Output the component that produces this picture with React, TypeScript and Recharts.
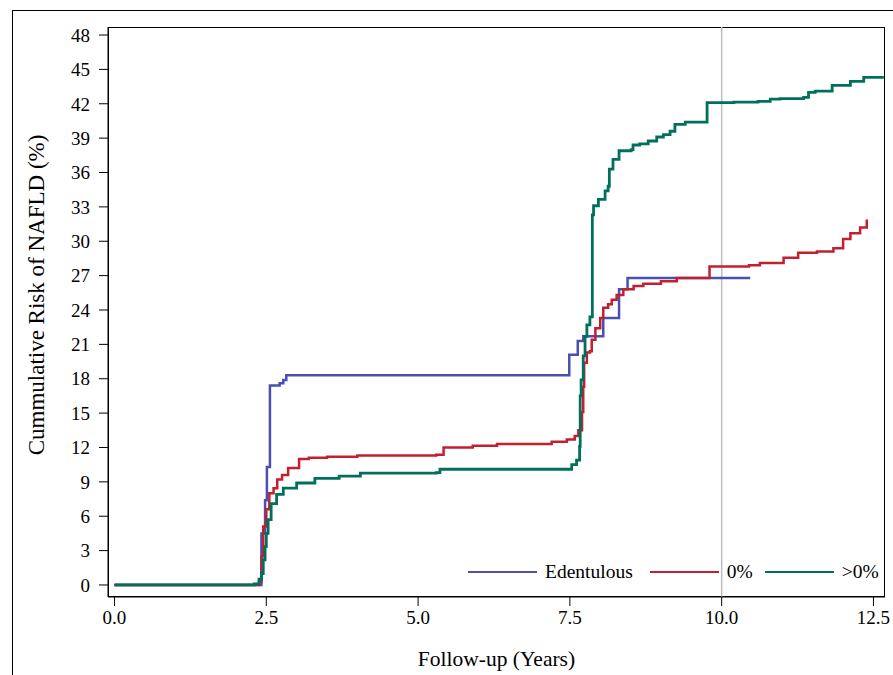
import React from 'react';
import {
  LineChart,
  Line,
  XAxis,
  YAxis,
  ReferenceLine,
} from 'recharts';

// Kaplan-Meier style cumulative risk (years, %)
const edentulousTime = [0, 2.42, 2.48, 2.51, 2.56, 2.72, 2.78, 2.83, 7.49, 7.63, 7.72, 8.05, 8.31, 8.45, 10.47];
const edentulousRisk = [0, 4.5, 7.4, 10.3, 17.4, 17.6, 17.9, 18.3, 20.1, 21.3, 21.7, 23.3, 25.8, 26.8, 26.8];

const zeroTime = [
  0, 2.38, 2.42, 2.45, 2.5, 2.55, 2.62, 2.68, 2.76, 2.86, 3.04, 3.2, 3.5, 4.0, 5.3, 5.42, 5.9, 6.3, 7.2,
  7.45, 7.58, 7.64, 7.7, 7.72, 7.735, 7.78, 7.83, 7.86, 7.92, 8.0, 8.05, 8.13, 8.19, 8.27, 8.38, 8.55,
  8.71, 9.0, 9.26, 9.8, 10.45, 10.63, 11.02, 11.26, 11.57, 11.84, 12.0, 12.12, 12.28, 12.39,
];
const zeroRisk = [
  0, 0.3, 2.5, 5.1, 6.6, 8.0, 8.45, 9.2, 9.6, 10.2, 11.0, 11.1, 11.2, 11.3, 11.36, 12.0, 12.15, 12.3, 12.5,
  12.7, 13.0, 13.5, 15.1, 17.3, 19.4, 20.3, 20.4, 21.4, 22.4, 23.3, 24.2, 24.5, 24.9, 25.3, 25.8, 26.1,
  26.3, 26.5, 26.8, 27.8, 27.9, 28.1, 28.55, 29.0, 29.1, 29.4, 30.2, 30.7, 31.2, 31.9,
];

const aboveZeroTime = [
  0, 2.3, 2.38, 2.42, 2.45, 2.48, 2.5, 2.53, 2.58, 2.67, 2.78, 3.0, 3.3, 3.7, 4.05, 5.3, 5.36, 7.45, 7.53,
  7.61, 7.66, 7.67, 7.685, 7.72, 7.75, 7.78, 7.83, 7.87, 7.89, 7.97, 8.08, 8.13, 8.15, 8.21, 8.31, 8.51,
  8.54, 8.65, 8.79, 8.93, 9.04, 9.15, 9.23, 9.4, 9.76, 10.2, 10.6, 10.8, 10.96, 11.35, 11.43, 11.54, 11.82,
  12.12, 12.34, 12.67,
];
const aboveZeroRisk = [
  0, 0.1, 0.5, 1.0, 2.2, 3.35, 4.5, 5.7, 7.1, 7.9, 8.45, 8.9, 9.3, 9.5, 9.76, 9.8, 10.1, 10.1, 10.5,
  10.9, 12.1, 16.5, 17.9, 20.0, 21.7, 22.7, 23.4, 32.3, 33.1, 33.65, 34.4, 34.8, 36.3, 37.15, 37.9, 38.0,
  38.4, 38.5, 38.75, 39.1, 39.3, 39.6, 40.2, 40.4, 42.1, 42.15, 42.2, 42.4, 42.45, 42.55, 43.0, 43.1, 43.6,
  43.95, 44.3, 44.3,
];

const yTicks = [0, 3, 6, 9, 12, 15, 18, 21, 24, 27, 30, 33, 36, 39, 42, 45, 48];
const xTicks = [0, 2.5, 5, 7.5, 10, 12.5];

const BLUE = '#4a4fb2';
const RED = '#c21f31';
const GREEN = '#00705d';
const FONT = '"Liberation Serif", "Times New Roman", serif';

const toPoints = (t: number[], r: number[]) => t.map((x, i) => ({ t: x, risk: r[i] }));

const legendItems = [
  { name: 'Edentulous', color: BLUE, gap: 17 },
  { name: '0%', color: RED, gap: 12 },
  { name: '>0%', color: GREEN, gap: 0 },
];

export default function App() {
  return (
    <div style={{ position: 'absolute', left: 0, top: 0, width: 893, height: 675, overflow: 'hidden', background: '#fff' }}>
      {/* outer figure frame */}
      <div style={{ position: 'absolute', left: 12, top: 10, width: 900, height: 700, border: '1px solid #000' }} />
      {/* plot frame */}
      <div style={{ position: 'absolute', left: 108, top: 27, width: 777, height: 570, border: '1px solid #000', boxSizing: 'border-box' }} />
      <LineChart
        width={893}
        height={675}
        margin={{ top: 27, right: 8, left: 0, bottom: 0 }}
        style={{ position: 'absolute', left: 0, top: 0 }}
      >
        <XAxis
          type="number"
          dataKey="t"
          domain={[-0.107, 12.69]}
          ticks={xTicks}
          allowDataOverflow
          height={78}
          tickFormatter={(v: number) => v.toFixed(1)}
          tick={{ fill: '#000', fontSize: 19, fontFamily: FONT }}
          tickSize={9}
          tickMargin={5}
          stroke="#000"
          label={{ value: 'Follow-up (Years)', position: 'insideBottom', offset: 9, style: { fill: '#000', fontSize: 21.5, fontFamily: FONT } }}
        />
        <YAxis
          type="number"
          dataKey="risk"
          domain={[-1.05, 48.7]}
          ticks={yTicks}
          allowDataOverflow
          width={108}
          tick={{ fill: '#000', fontSize: 19, fontFamily: FONT }}
          tickSize={9}
          tickMargin={9}
          stroke="#000"
          label={{ value: 'Cummulative Risk of NAFLD (%)', angle: -90, position: 'center', dx: -18, dy: -17, style: { fill: '#000', fontSize: 23, fontFamily: FONT } }}
        />
        <ReferenceLine x={10} stroke="#bdbdbd" strokeWidth={1.5} />
        <Line data={toPoints(edentulousTime, edentulousRisk)} dataKey="risk" type="stepAfter" stroke={BLUE} strokeWidth={2.5} dot={false} isAnimationActive={false} />
        <Line data={toPoints(zeroTime, zeroRisk)} dataKey="risk" type="stepAfter" stroke={RED} strokeWidth={2.5} dot={false} isAnimationActive={false} />
        <Line data={toPoints(aboveZeroTime, aboveZeroRisk)} dataKey="risk" type="stepAfter" stroke={GREEN} strokeWidth={2.8} dot={false} isAnimationActive={false} />
      </LineChart>
      {/* legend inside plot, bottom right */}
      <div style={{ position: 'absolute', left: 468, top: 561, display: 'flex', alignItems: 'center', fontFamily: FONT, fontSize: 19.5, color: '#000' }}>
        {legendItems.map((item) => (
          <div key={item.name} style={{ display: 'flex', alignItems: 'center', marginRight: item.gap }}>
            <div style={{ width: 69, height: 2.5, background: item.color, marginRight: 8 }} />
            <span>{item.name}</span>
          </div>
        ))}
      </div>
    </div>
  );
}
